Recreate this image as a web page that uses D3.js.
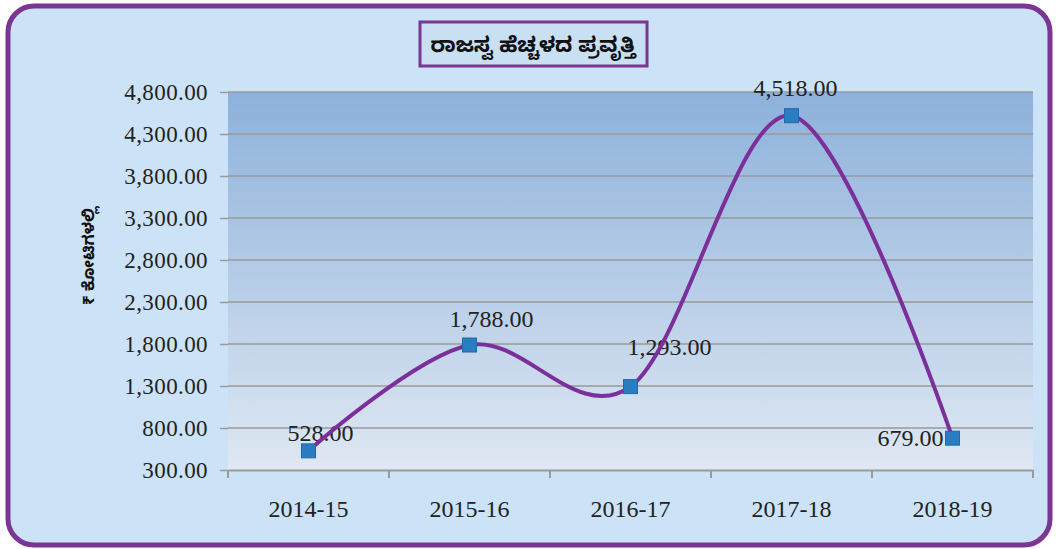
<!DOCTYPE html>
<html>
<head>
<meta charset="utf-8">
<title>ರಾಜಸ್ವ ಹೆಚ್ಚಳದ ಪ್ರವೃತ್ತಿ</title>
<script src="https://d3js.org/d3.v7.min.js"></script>
<style>
  body { margin: 0; background: #fff; }
  svg { display: block; }
</style>
</head>
<body>
<div id="vis"></div>
<script>
    // data
    var years = ["2014-15", "2015-16", "2016-17", "2017-18", "2018-19"];
    var revenue = [528, 1788, 1293, 4518, 679];
    var yTicks = [300, 800, 1300, 1800, 2300, 2800, 3300, 3800, 4300, 4800];
    var title = "ರಾಜಸ್ವ ಹೆಚ್ಚಳದ ಪ್ರವೃತ್ತಿ";
    var yLabel = "₹ ಕೋಟಿಗಳಲ್ಲಿ";

    var W = 1056, H = 549;
    var margin = {top: 92, left: 228, bottom: 79, right: 23};
    var width = W - margin.left - margin.right;
    var height = H - margin.top - margin.bottom;
    var serif = "'Liberation Serif', 'Times New Roman', serif";

    var svg = d3.select("#vis").append("svg")
        .attr("width", W)
        .attr("height", H);

    var grad = svg.append("defs").append("linearGradient")
        .attr("id", "plotbg")
        .attr("x1", 0).attr("y1", 0).attr("x2", 0).attr("y2", 1);
    grad.append("stop").attr("offset", "0%").attr("stop-color", "#8db1db");
    grad.append("stop").attr("offset", "100%").attr("stop-color", "#dfe8f3");

    // outer frame
    svg.append("rect")
        .attr("x", 8).attr("y", 6)
        .attr("width", W - 14).attr("height", H - 10)
        .attr("rx", 26)
        .attr("fill", "#cce2f6")
        .attr("stroke", "#7b3595")
        .attr("stroke-width", 5);

    // title box
    svg.append("rect")
        .attr("x", 420).attr("y", 22)
        .attr("width", 227).attr("height", 44)
        .attr("fill", "#c9dff2")
        .attr("stroke", "#7b3595")
        .attr("stroke-width", 3);
    svg.append("text")
        .attr("x", 533).attr("y", 52)
        .attr("text-anchor", "middle")
        .attr("font-family", "'Noto Sans Kannada', 'Noto Sans', sans-serif")
        .attr("font-weight", "bold")
        .attr("font-size", 21)
        .attr("fill", "#111")
        .text(title);

    var g = svg.append("g")
        .attr("transform", "translate(" + margin.left + "," + margin.top + ")");

    g.append("rect")
        .attr("x", 0).attr("y", 0)
        .attr("width", width).attr("height", height)
        .attr("fill", "url(#plotbg)");

    var xScale = d3.scaleBand()
        .domain(years)
        .range([0, width]);

    var yScale = d3.scaleLinear()
        .domain([300, 4800])
        .range([height, 0]);

    // gridlines
    g.selectAll("line.grid")
        .data(yTicks.slice(1))
        .enter()
        .append("line")
            .attr("class", "grid")
            .attr("x1", 0).attr("x2", width)
            .attr("y1", function(d) { return yScale(d); })
            .attr("y2", function(d) { return yScale(d); })
            .attr("stroke", "#999")
            .attr("stroke-width", 1.5);

    // y axis
    var yAxis = g.append("g")
        .call(d3.axisLeft(yScale)
            .tickValues(yTicks)
            .tickSize(8)
            .tickPadding(12)
            .tickFormat(d3.format(",.2f")));
    yAxis.select(".domain").remove();
    yAxis.selectAll(".tick line")
        .attr("stroke", "#999")
        .attr("stroke-width", 1.5);
    yAxis.selectAll("text")
        .attr("font-family", serif)
        .attr("font-size", 23)
        .attr("letter-spacing", 0.4)
        .attr("fill", "#222");

    // x axis
    var xAxis = g.append("g")
        .attr("transform", "translate(0," + height + ")")
        .call(d3.axisBottom(xScale).tickSize(0).tickPadding(30));
    xAxis.select(".domain")
        .attr("stroke", "#999")
        .attr("stroke-width", 2);
    xAxis.selectAll("text")
        .attr("font-family", serif)
        .attr("font-size", 24)
        .attr("fill", "#222");
    // tick marks between categories
    xAxis.selectAll("line.sep")
        .data(years.concat([null]))
        .enter()
        .append("line")
            .attr("class", "sep")
            .attr("x1", function(d, i) { return i * xScale.step(); })
            .attr("x2", function(d, i) { return i * xScale.step(); })
            .attr("y1", 0).attr("y2", 8)
            .attr("stroke", "#999")
            .attr("stroke-width", 2);

    // y label
    svg.append("text")
        .attr("transform", "translate(94,256) rotate(-90)")
        .attr("text-anchor", "middle")
        .attr("font-family", "'Noto Sans Kannada', 'Noto Sans', sans-serif")
        .attr("font-weight", "bold")
        .attr("font-size", 16)
        .attr("fill", "#111")
        .text(yLabel);

    var cx = function(d, i) { return xScale(years[i]) + xScale.bandwidth() / 2; };
    var cy = function(d) { return yScale(d); };

    // data labels (drawn under the line)
    var labelPos = [[12, -10, "middle"], [22, -18, "middle"], [39, -32, "middle"], [4, -20, "middle"], [-9, 8, "end"]];

    g.selectAll("text.lbl")
        .data(revenue)
        .enter()
        .append("text")
            .attr("class", "lbl")
            .attr("x", function(d, i) { return cx(d, i) + labelPos[i][0]; })
            .attr("y", function(d) { return cy(d); })
            .attr("dy", function(d, i) { return labelPos[i][1]; })
            .attr("text-anchor", function(d, i) { return labelPos[i][2]; })
            .attr("font-family", serif)
            .attr("font-size", 24)
            .attr("fill", "#222")
            .text(function(d) { return d3.format(",.2f")(d); });

    var line = d3.line()
        .x(cx)
        .y(cy)
        .curve(d3.curveCardinal.tension(0));

    g.append("path")
        .datum(revenue)
        .attr("d", line)
        .attr("fill", "none")
        .attr("stroke", "#7b2f9b")
        .attr("stroke-width", 4);

    g.selectAll("rect.marker")
        .data(revenue)
        .enter()
        .append("rect")
            .attr("class", "marker")
            .attr("x", function(d, i) { return cx(d, i) - 7; })
            .attr("y", function(d) { return cy(d) - 7; })
            .attr("width", 14).attr("height", 14)
            .attr("fill", "#2a7dc0")
            .attr("stroke", "#1f6aa8")
            .attr("stroke-width", 1);
</script>
</body>
</html>
